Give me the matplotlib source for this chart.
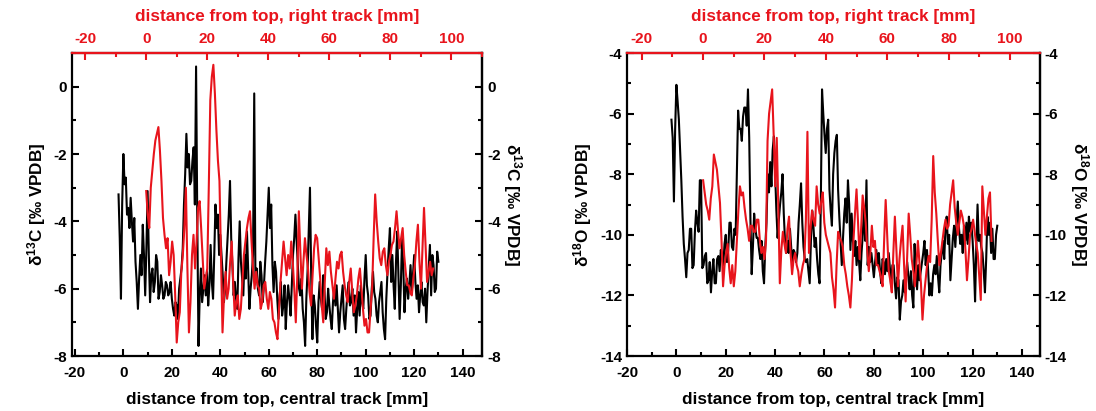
import numpy as np
import matplotlib
matplotlib.use("Agg")
import matplotlib.pyplot as plt
from matplotlib.ticker import MultipleLocator

plt.rcParams['font.family'] = ['Liberation Sans', 'DejaVu Sans']
plt.rcParams['font.weight'] = 'bold'
plt.rcParams['axes.unicode_minus'] = False
plt.rcParams['mathtext.fontset'] = 'custom'
plt.rcParams['mathtext.rm'] = 'Liberation Sans:bold'
plt.rcParams['mathtext.bf'] = 'Liberation Sans:bold'
plt.rcParams['mathtext.default'] = 'bf'

# distances [mm], sampled every 0.5 mm
central_dist = np.linspace(-2, 130, 265)   # central track, bottom axis
right_dist = np.linspace(0, 94, 189)       # right track, top axis

# d13C, central track
c13_central = [
    -3.2, -4.5, -6.3, -3.5, -2.0, -2.9, -2.7, -3.8, -3.6, -4.2,
    -3.3, -4.0, -4.6, -3.9, -5.2, -5.8, -6.6, -5.7, -5.0, -5.6,
    -4.1, -5.0, -6.2, -4.8, -3.1, -5.0, -6.4, -5.6, -5.4, -6.1,
    -5.8, -5.0, -5.2, -6.3, -6.1, -5.6, -5.9, -6.3, -6.2, -5.8,
    -5.9, -6.2, -6.1, -5.8, -6.3, -6.6, -6.8, -6.4, -6.5, -6.9,
    -6.0, -5.7, -5.4, -4.8, -3.5, -2.6, -1.4, -2.4, -2.0, -2.9,
    -2.8, -2.2, -1.8, -3.5, 0.6, -4.0, -7.7, -6.2, -5.4, -6.4,
    -6.0, -5.6, -6.2, -5.5, -6.5, -5.9, -4.7, -5.8, -6.3, -5.0,
    -3.5, -4.2, -3.8, -5.0, -4.4, -5.0, -5.6, -6.4, -6.0, -5.2,
    -4.5, -3.8, -2.8, -4.5, -5.3, -6.2, -5.8, -6.3, -6.6, -5.1,
    -4.0, -5.2, -5.7, -6.2, -5.0, -5.7, -4.3, -5.5, -6.6, -6.0,
    -5.6, -5.0, -0.2, -5.8, -5.4, -6.0, -6.2, -5.2, -5.6, -6.4,
    -5.9, -5.2, -4.6, -3.8, -3.0, -4.2, -3.5, -5.3, -6.1, -5.2,
    -5.5, -6.3, -6.9, -6.2, -5.8, -6.8, -6.5, -5.9, -7.2, -6.4,
    -5.9, -6.3, -6.8, -5.9, -5.0, -4.5, -3.8, -4.6, -5.3, -6.0,
    -6.2, -5.7, -6.6, -7.0, -7.7, -6.3, -5.5, -4.2, -3.0, -5.6,
    -7.5, -6.2, -6.5, -7.1, -7.6, -6.4, -5.8, -6.3, -6.6, -5.6,
    -6.1, -6.9, -6.7, -6.0, -6.5, -6.9, -7.2, -6.4, -6.0, -6.5,
    -5.9, -6.6, -7.3, -6.7, -6.3, -5.9, -6.9, -7.2, -6.6, -6.1,
    -5.8, -6.5, -6.4, -6.0, -6.8, -6.2, -7.3, -6.6, -6.1, -6.8,
    -5.9, -6.4, -6.6, -5.7, -5.0, -5.9, -6.2, -6.9, -6.8, -6.0,
    -5.5, -6.1, -6.3, -6.8, -7.0, -6.4, -6.1, -5.8, -6.7, -7.2,
    -7.5, -6.3, -5.5, -4.8, -4.2, -5.8, -5.0, -5.9, -6.6, -5.2,
    -4.3, -5.6, -6.9, -5.9, -4.5, -5.3, -6.7, -6.0, -5.7, -6.3,
    -5.9, -5.3, -6.1, -5.6, -5.0, -5.8, -6.3, -5.9, -6.7, -6.2,
    -5.8, -6.4, -6.5, -6.0, -7.0, -6.1, -5.4, -4.7, -6.2, -5.0,
    -5.3, -6.1, -6.0, -4.9, -5.2,
]

# d13C, right track
c13_right = [
    -3.1, -3.8, -4.2, -3.0, -2.5, -2.0, -1.6, -1.4, -1.2, -1.9,
    -2.8, -3.9, -4.4, -4.8, -4.5, -5.6, -5.2, -4.6, -5.0, -6.2,
    -7.6, -7.0, -6.7, -5.5, -5.0, -4.2, -3.0, -5.4, -7.3, -6.4,
    -5.0, -4.4, -5.4, -4.6, -3.6, -3.4, -4.2, -5.1, -6.0, -5.7,
    -5.4, -3.0, -0.4, 0.3, 0.65, -0.2, -1.3, -2.2, -2.8, -5.0,
    -7.3, -6.2, -5.5, -6.3, -6.0, -5.2, -4.6, -5.8, -6.8, -6.4,
    -6.2, -6.9, -6.6, -5.8, -5.0, -4.6, -4.2, -3.9, -3.7, -4.6,
    -5.4, -6.0, -5.5, -5.9, -6.0, -6.6, -6.4, -5.9, -5.8, -6.3,
    -6.6, -6.1, -6.3, -6.9, -7.0, -7.3, -7.5, -6.6, -5.8, -5.2,
    -4.6, -5.1, -5.6, -5.0, -5.4, -4.6, -5.2, -6.0, -7.0, -5.6,
    -3.7, -4.9, -6.0, -5.2, -4.5, -5.0, -5.4, -6.1, -6.5, -5.6,
    -4.8, -4.4, -4.5, -5.1, -5.7, -6.5, -7.0, -5.8, -4.8, -5.3,
    -4.9, -5.5, -5.9, -6.3, -5.7, -5.2, -5.4, -5.0, -4.9, -5.5,
    -5.9, -6.2, -6.4, -5.8, -5.4, -6.1, -6.7, -6.5, -6.2, -5.7,
    -5.4, -6.0, -6.6, -7.1, -6.9, -7.3, -7.3, -6.6, -6.0, -4.5,
    -3.2, -4.0, -4.6, -5.1, -5.3, -4.9, -4.8, -5.3, -5.6, -5.2,
    -5.0, -4.7, -4.6, -4.2, -3.7, -4.3, -4.8, -4.5, -4.2, -5.0,
    -5.5, -5.9, -5.9, -6.1, -6.2, -5.7, -5.3, -4.6, -4.1, -5.2,
    -6.0, -4.8, -3.6, -4.7, -5.8, -5.5, -5.2, -5.6, -5.4,
]

# d18O, central track
o18_central = [
    -6.2, -6.8, -8.9, -6.5, -5.05, -5.6, -6.2, -7.2, -8.2, -9.4,
    -10.3, -10.8, -11.4, -10.6, -10.5, -9.8, -9.8, -11.1, -11.0, -9.9,
    -9.2, -9.6, -9.9, -8.2, -8.2, -11.1, -11.0, -10.7, -10.6, -11.6,
    -11.5, -10.9, -11.9, -11.2, -10.8, -11.6, -11.6, -10.8, -10.7, -11.2,
    -10.5, -10.7, -11.0, -10.3, -10.0, -10.9, -10.5, -9.6, -9.6, -10.4,
    -10.5, -9.8, -10.0, -8.0, -5.9, -6.5, -6.5, -6.9, -6.1, -5.8,
    -5.8, -6.4, -5.2, -6.8, -9.5, -11.3, -10.4, -9.3, -9.8, -10.1,
    -10.1, -10.5, -10.8, -10.2, -11.2, -11.6, -10.4, -9.6, -8.0, -8.6,
    -7.6, -8.4, -7.2, -6.75, -8.0, -9.2, -10.1, -9.5, -9.0, -8.6,
    -8.0, -9.3, -10.2, -10.6, -10.2, -10.6, -9.8, -10.4, -11.0, -10.5,
    -10.6, -10.9, -10.6, -9.6, -9.0, -8.3, -9.6, -10.4, -10.8, -10.9,
    -10.8, -11.2, -11.6, -10.2, -9.2, -9.7, -10.4, -10.1, -10.8, -11.3,
    -11.6, -9.0, -5.2, -6.0, -6.7, -7.3, -6.5, -6.2, -8.5, -9.2,
    -9.7, -8.0, -7.3, -6.9, -6.7, -8.5, -9.4, -10.2, -11.0, -10.1,
    -9.3, -8.8, -9.6, -8.2, -9.0, -10.5, -9.3, -10.2, -10.7, -10.2,
    -11.0, -10.4, -10.9, -11.5, -10.6, -10.0, -9.1, -10.2, -8.2, -11.0,
    -10.4, -10.9, -10.6, -11.0, -11.4, -10.9, -10.5, -11.0, -10.6, -11.2,
    -11.6, -10.8, -10.9, -11.3, -10.8, -11.2, -10.6, -11.1, -11.7, -11.0,
    -11.0, -11.6, -12.1, -11.4, -11.5, -12.8, -12.2, -12.0, -11.5, -11.9,
    -11.4, -10.9, -11.4, -11.8, -11.2, -12.0, -12.4, -10.3, -11.2, -11.8,
    -11.0, -11.5, -11.2, -10.9, -10.6, -10.2, -11.0, -10.5, -11.2, -12.0,
    -11.6, -12.0, -11.3, -11.0, -11.3, -10.7, -11.4, -11.9, -11.0, -10.6,
    -10.2, -10.8, -9.8, -9.4, -10.3, -10.0, -11.5, -10.8, -10.1, -9.7,
    -10.4, -9.6, -8.9, -9.8, -10.3, -10.0, -10.6, -9.7, -10.2, -9.6,
    -10.3, -9.4, -9.9, -9.6, -10.2, -11.0, -12.2, -10.4, -9.0, -10.2,
    -10.0, -10.4, -10.6, -11.2, -11.9, -10.8, -9.4, -10.0, -9.6, -10.6,
    -9.8, -10.8, -10.8, -10.0, -9.7,
]

# d18O, right track
o18_right = [
    -8.2, -8.6, -9.0, -9.2, -9.5, -8.8, -8.4, -7.35, -7.6, -7.85,
    -8.4, -8.95, -10.2, -11.7, -11.0, -10.6, -10.3, -11.1, -11.6, -11.0,
    -11.7, -11.2, -10.2, -9.2, -8.4, -8.7, -8.6, -9.1, -9.5, -9.8,
    -10.2, -9.7, -9.7, -9.9, -9.9, -9.5, -9.5, -10.2, -10.6, -10.4,
    -10.8, -10.2, -6.9, -6.0, -5.6, -5.2, -6.7, -8.4, -6.8, -9.0,
    -11.6, -10.5, -9.9, -10.3, -10.6, -9.8, -9.4, -10.6, -11.3, -10.8,
    -10.6, -11.0, -11.2, -11.7, -11.3, -11.0, -10.8, -9.5, -6.6, -10.6,
    -9.8, -9.2, -9.5, -9.7, -8.4, -9.0, -9.3, -8.9, -8.6, -9.6,
    -10.0, -10.2, -10.4, -10.6, -11.4, -11.8, -12.4, -11.0, -9.9, -10.1,
    -10.2, -10.4, -11.0, -11.3, -11.7, -12.0, -12.4, -11.5, -10.2, -9.3,
    -8.5, -9.6, -10.8, -9.8, -8.7, -9.1, -9.6, -10.5, -11.2, -10.6,
    -9.7, -10.4, -10.2, -11.0, -11.0, -11.2, -11.4, -11.7, -10.2, -8.85,
    -10.0, -11.2, -11.5, -11.9, -10.6, -9.4, -10.5, -11.7, -10.8, -10.2,
    -9.7, -11.0, -12.2, -10.8, -9.3, -10.0, -10.8, -11.2, -11.7, -11.0,
    -10.2, -10.9, -11.6, -12.8, -12.0, -11.5, -11.0, -10.7, -10.9, -9.5,
    -7.4, -8.6, -9.3, -10.2, -11.0, -10.6, -10.2, -9.8, -9.5, -9.8,
    -9.7, -9.0, -8.6, -8.2, -9.1, -9.6, -10.0, -9.6, -9.2, -9.4,
    -9.7, -10.5, -11.5, -10.8, -10.0, -9.8, -9.5, -9.9, -10.3, -10.6,
    -11.4, -12.15, -8.4, -9.2, -10.0, -9.4, -8.8, -8.6, -10.2,
]

RED = '#e8141c'
TICK_FS = 11
LABEL_FS = 12.3

fig = plt.figure(figsize=(10.96, 4.11), dpi=100)


def style_ticks(axis, color='black'):
    axis.tick_params(which='both', direction='in', width=1.5,
                     labelsize=TICK_FS, colors=color)
    axis.tick_params(which='major', length=5)
    axis.tick_params(which='minor', length=3)


def make_panel(rect, y_c, y_r, ylab, ylim, yticks, xlim_bot, xlim_top):
    ax = fig.add_axes(rect)
    ax.plot(central_dist, y_c, color='black', lw=1.5)
    ax.set_xlim(*xlim_bot)
    ax.set_ylim(*ylim)
    ax.set_xticks(np.arange(-20, 141, 20))
    ax.xaxis.set_minor_locator(MultipleLocator(10))
    ax.set_yticks(yticks)
    ax.yaxis.set_minor_locator(MultipleLocator(1))
    style_ticks(ax)
    ax.tick_params(axis='x', pad=7)
    ax.set_xlabel('distance from top, central track [mm]', fontsize=LABEL_FS,
                  fontweight='bold', labelpad=9)
    ax.set_ylabel(ylab, fontsize=LABEL_FS, fontweight='bold', labelpad=4)
    for s in ax.spines.values():
        s.set_linewidth(1.6)

    # right axis, same scale
    ax2 = ax.secondary_yaxis('right')
    ax2.set_yticks(yticks)
    ax2.yaxis.set_minor_locator(MultipleLocator(1))
    style_ticks(ax2)
    ax2.set_ylabel(ylab, fontsize=LABEL_FS, fontweight='bold', rotation=270,
                   labelpad=17)
    ax2.spines['right'].set_linewidth(1.6)

    # top axis, right track
    axt = ax.twiny()
    axt.plot(right_dist, y_r, color=RED, lw=1.5)
    axt.set_xlim(*xlim_top)
    axt.set_xticks(np.arange(-20, 101, 20))
    axt.xaxis.set_minor_locator(MultipleLocator(10))
    style_ticks(axt, RED)
    axt.tick_params(axis='x', pad=5)
    axt.set_xlabel('distance from top, right track [mm]', fontsize=LABEL_FS,
                   fontweight='bold', color=RED, labelpad=8)
    for name, s in axt.spines.items():
        if name == 'top':
            s.set_color(RED)
            s.set_linewidth(1.6)
        else:
            s.set_visible(False)
    return ax


make_panel([0.0657, 0.1338, 0.3741, 0.7372], c13_central, c13_right,
           'δ$^{13}$C [‰ VPDB]', (-8, 1), np.arange(-8, 1, 2),
           (-21.2, 148), (-24.3, 110))
make_panel([0.5721, 0.1338, 0.3768, 0.7372], o18_central, o18_right,
           'δ$^{18}$O [‰ VPDB]', (-14, -4), np.arange(-14, -3, 2),
           (-20, 147.3), (-24.8, 109.8))

fig.savefig('out.png', dpi=100)
